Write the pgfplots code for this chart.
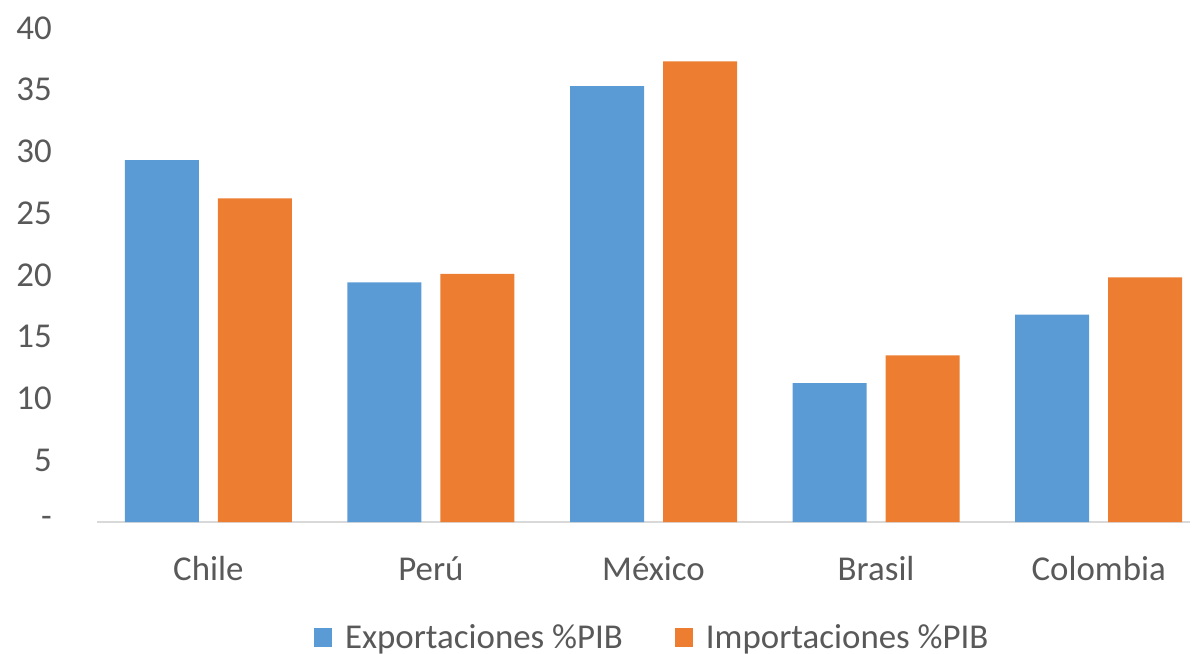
\documentclass[border=0pt]{standalone}
\usepackage{fontspec}
\setmainfont{Carlito}
\usepackage{pgfplots}
\pgfplotsset{compat=1.18}
\definecolor{cblue}{HTML}{5B9BD5}
\definecolor{corange}{HTML}{ED7D31}
\definecolor{ctext}{HTML}{595959}
\definecolor{caxis}{HTML}{D9D9D9}
\begin{document}
\begin{tikzpicture}
\useasboundingbox (0,0) rectangle (1192bp,654bp);
\begin{axis}[
  at={(97bp,132bp)}, anchor=south west,
  scale only axis, width=1093bp, height=494bp,
  ybar=19bp, bar width=74bp,
  xmin=-0.5, xmax=4.41, ymin=0, ymax=40,
  axis x line*=bottom, axis y line*=left,
  x axis line style={draw=none},
  y axis line style={draw=none},
  ytick={0,5,...,40},
  yticklabels={{-\hspace{12bp}},5,10,15,20,25,30,35,40},
  xtick=data,
  xticklabels={Chile,Perú,México,Brasil,Colombia},
  major tick length=0pt,
  ticklabel style={font=\fontsize{35}{40}\selectfont, text=ctext},
  /pgf/number format/assume math mode=true,
  yticklabel style={anchor=east, inner sep=0pt, xshift=-45bp},
  xticklabel style={anchor=base, inner sep=0pt, yshift=-58bp},
  legend style={draw=none, at={(0.508,-0.234)}, anchor=center,
    inner ysep=0pt, nodes={inner ysep=1bp},
    font=\fontsize{35}{40}\selectfont, text=ctext,
    /tikz/every odd column/.append style={column sep=11bp},
    /tikz/every even column/.append style={column sep=50bp}},
  legend columns=2,
  legend image code/.code={\fill[#1] (0bp,-9.5bp) rectangle (18bp,9.5bp);},
  clip=false,
]
\draw[caxis, line width=1.5bp] (axis cs:-0.5,0) -- (axis cs:4.41,0);
\addplot[fill=cblue, draw=none] coordinates {(0,29.3) (1,19.4) (2,35.3) (3,11.25) (4,16.8)};
\addplot[fill=corange, draw=none] coordinates {(0,26.2) (1,20.1) (2,37.3) (3,13.5) (4,19.8)};
\legend{Exportaciones \%PIB, Importaciones \%PIB}
\end{axis}
\end{tikzpicture}
\end{document}
